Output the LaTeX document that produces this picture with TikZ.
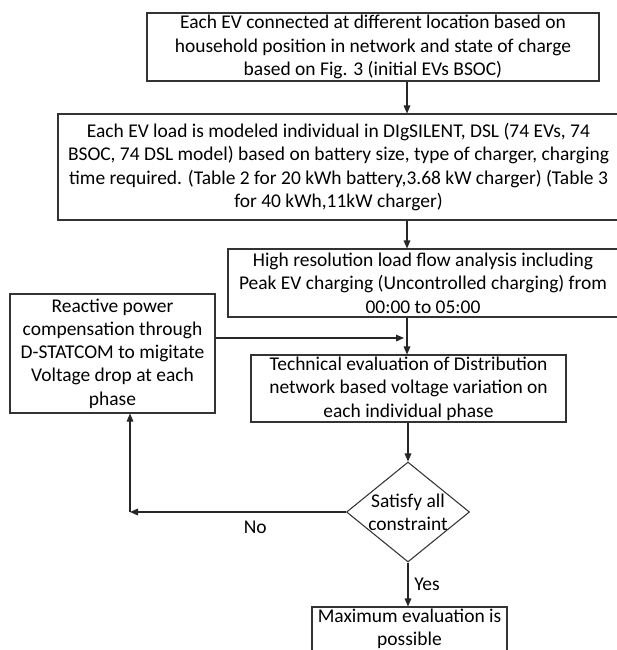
\documentclass[tikz,border=0pt]{standalone}
\usepackage{fontspec}
\setmainfont{Carlito}
\usetikzlibrary{shapes.geometric,arrows.meta}

\begin{document}
\begin{tikzpicture}[x=0.75pt,y=-0.75pt,
  font=\fontsize{14.6}{17.5}\selectfont,
  stepbox/.style={draw=black!80,line width=0.8pt,align=center,inner sep=0pt},
  decision/.style={draw=black!80,line width=0.8pt,shape=diamond,inner sep=0pt,
    minimum width=92.25pt,minimum height=75pt},
  flow/.style={draw=black!85,line width=0.8pt,-{Triangle[length=6pt,width=5pt]}}]
\useasboundingbox (0,0) rectangle (617,650);

\node[stepbox,minimum width=339pt,minimum height=51pt] (box1) at (373,47)
  {Each EV connected at different location based on\\
   household position in network and state of charge\\
   based on Fig. 3 (initial EVs BSOC)};

\node[stepbox,minimum width=420.75pt,minimum height=79.5pt] (box2) at (338.5,167)
  {Each EV load is modeled individual in DIgSILENT, DSL (74 EVs, 74\\
   BSOC, 74 DSL model) based on battery size, type of charger, charging\\
   time required. (Table 2 for 20 kWh battery,3.68 kW charger) (Table 3\\
   for 40 kWh,11kW charger)};

\node[stepbox,minimum width=292.5pt,minimum height=51pt] (box3) at (423,283)
  {High resolution load flow analysis including\\
   Peak EV charging (Uncontrolled charging) from\\
   00:00 to 05:00};

\node[stepbox,minimum width=153.75pt,minimum height=89.25pt] (reac) at (112.5,353.5)
  {Reactive power\\compensation through\\D-STATCOM to migitate\\
   Voltage drop at each\\phase};

\node[stepbox,minimum width=236.25pt,minimum height=50.25pt] (tech) at (408.5,388.5)
  {Technical evaluation of Distribution\\
   network based voltage variation on\\
   each individual phase};

\node[decision] (sat) at (408,512) {};
\node[align=center,inner sep=0pt] (sattext) at (sat) {Satisfy all\\constraint};

\node[stepbox,minimum width=146.25pt,minimum height=33pt] (final) at (409.5,629)
  {Maximum evaluation is\\possible};

% main line
\coordinate (spine) at (407,0);
\draw[flow] (box1.south -| spine) -- (box2.north -| spine);
\draw[flow] (box2.south -| spine) -- (box3.north -| spine);
\draw[flow] (box3.south -| spine) -- (tech.north -| spine);
\coordinate (join) at (404,338);
\draw[flow] (reac.east |- join) -- (join);
\draw[flow] (tech.south -| sat.north) -- (sat.north);

% no / yes
\coordinate (back) at (130,512);
\draw[flow] (sat.west) -- (back) node[pos=0.42,below=3pt] (no) {No};
\draw[flow] (back) -- (reac.south -| back);
\draw[flow] (sat.south) -- (final.north -| sat.south) node[midway,right=1pt] (yes) {Yes};
\end{tikzpicture}
\end{document}
